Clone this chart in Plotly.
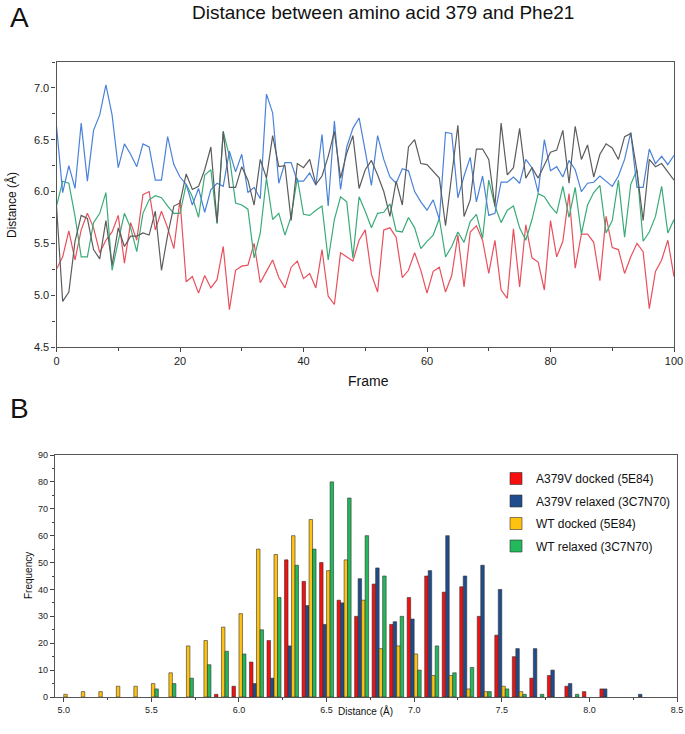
import plotly.graph_objects as go

# ---------------- Panel A data (frames 0..100) ----------------
frames = list(range(101))

a379v_relaxed_line = [  # blue
    6.63, 5.99, 6.25, 6.03, 6.66, 6.10, 6.59, 6.74, 7.03, 6.74,
    6.23, 6.46, 6.36, 6.24, 6.46, 6.43, 6.11, 6.11, 6.53, 6.26,
    6.14, 6.07, 5.87, 6.03, 5.80, 6.02, 6.08, 6.05, 6.39, 6.19,
    6.36, 5.99, 6.04, 5.93, 6.94, 6.76, 6.08, 6.28, 6.28, 6.10,
    6.10, 6.18, 6.06, 6.55, 5.86, 6.68, 6.02, 6.43, 6.61, 6.71,
    6.39, 6.06, 6.54, 6.31, 6.14, 6.08, 6.22, 6.20, 6.00, 5.90,
    5.82, 5.92, 5.73, 6.57, 6.56, 5.94, 6.15, 6.33, 5.90, 6.15,
    5.77, 5.79, 6.09, 6.09, 6.14, 6.08, 6.31, 6.23, 5.99, 6.50,
    6.20, 6.24, 6.14, 6.30, 6.21, 6.00, 6.08, 6.09, 6.15, 6.10,
    6.05, 6.15, 6.31, 6.57, 6.04, 6.04, 6.41, 6.27, 6.34, 6.26,
    6.35]

gray_line = [
    5.86, 4.94, 5.03, 5.52, 5.77, 5.74, 5.44, 5.35, 5.72, 5.29,
    5.65, 5.47, 5.57, 5.57, 5.60, 5.58, 5.81, 5.24, 5.58, 5.86,
    5.89, 6.17, 6.02, 6.05, 6.21, 6.43, 5.70, 6.58, 6.04, 6.04,
    6.24, 6.11, 5.87, 6.31, 6.13, 6.54, 6.24, 6.25, 5.72, 6.27,
    6.23, 6.31, 6.07, 6.15, 6.34, 6.58, 6.13, 6.37, 6.54, 6.03,
    6.21, 6.30, 6.16, 6.00, 5.76, 6.10, 5.87, 6.43, 6.50, 6.27,
    6.26, 6.19, 6.13, 5.67, 6.18, 6.64, 5.76, 5.92, 6.41, 6.41,
    6.31, 5.86, 6.66, 6.16, 6.23, 6.61, 6.13, 6.23, 6.13, 6.25,
    6.38, 6.40, 6.59, 6.08, 6.63, 6.31, 6.45, 6.14, 6.36, 6.46,
    6.42, 6.31, 6.53, 6.56, 6.20, 5.72, 6.31, 6.24, 6.27, 6.19,
    6.11]

green_line = [
    5.86, 6.10, 6.08, 5.76, 5.37, 5.37, 5.70, 5.79, 5.99, 5.24,
    5.52, 5.79, 5.65, 5.42, 5.79, 5.92, 5.96, 5.94, 5.86, 5.79,
    5.79, 6.07, 5.95, 5.75, 6.16, 6.21, 5.69, 6.58, 6.34, 5.89,
    5.87, 5.83, 5.36, 5.60, 6.13, 5.73, 5.79, 5.58, 5.76, 6.13,
    5.78, 5.77, 5.82, 5.86, 5.34, 5.73, 5.95, 5.90, 5.36, 5.95,
    5.81, 5.65, 5.79, 5.80, 5.88, 5.62, 5.61, 5.75, 5.65, 5.45,
    5.52, 5.58, 5.74, 5.37, 5.47, 5.61, 5.51, 5.71, 5.78, 5.55,
    6.11, 5.86, 5.70, 5.82, 5.86, 5.65, 5.53, 5.73, 5.98, 5.95,
    5.86, 5.79, 6.05, 5.75, 6.04, 5.59, 5.87, 5.99, 6.06, 5.60,
    5.72, 6.11, 5.56, 6.07, 6.21, 5.52, 5.61, 5.76, 6.05, 5.60,
    5.73]

red_line = [
    5.25, 5.37, 5.62, 5.34, 5.63, 5.79, 5.65, 5.41, 5.53, 5.61,
    5.77, 5.31, 5.70, 5.53, 5.97, 6.00, 5.63, 5.81, 5.65, 5.45,
    5.92, 5.13, 5.18, 5.02, 5.19, 5.07, 5.15, 5.47, 4.86, 5.24,
    5.28, 5.29, 5.50, 5.12, 5.23, 5.34, 5.17, 5.07, 5.27, 5.33,
    5.16, 5.21, 5.07, 5.44, 4.99, 4.91, 5.41, 5.37, 5.33, 5.53,
    5.63, 5.20, 5.03, 5.63, 5.65, 5.56, 5.17, 5.24, 5.41, 5.24,
    5.02, 5.23, 5.27, 5.03, 5.19, 5.58, 5.08, 5.61, 5.67, 5.53,
    5.21, 5.53, 5.05, 4.97, 5.64, 5.08, 5.68, 5.36, 5.32, 5.05,
    5.72, 5.37, 5.52, 5.98, 5.26, 5.59, 5.59, 5.51, 5.14, 5.76,
    5.46, 5.44, 5.21, 5.37, 5.50, 5.42, 4.87, 5.23, 5.34, 5.53,
    5.18]

# ---------------- Panel B data (histogram bins) ----------------
bins = [5.0, 5.1, 5.2, 5.3, 5.4, 5.5, 5.6, 5.7, 5.8, 5.9,
        6.0, 6.1, 6.2, 6.3, 6.4, 6.5, 6.6, 6.7, 6.8, 6.9,
        7.0, 7.1, 7.2, 7.3, 7.4, 7.5, 7.6, 7.7, 7.8, 7.9,
        8.0, 8.1, 8.2, 8.3]

a379v_docked = [0, 0, 0, 0, 0, 0, 0, 0, 0, 1,
                4, 13, 21, 51, 43, 50, 36, 30, 42, 27,
                37, 45, 39, 41, 30, 23, 15, 7, 8, 4,
                2, 3, 0, 0]
a379v_relaxed = [0, 0, 0, 0, 0, 0, 0, 0, 0, 0,
                 0, 5, 7, 19, 34, 27, 35, 44, 48, 28,
                 29, 47, 60, 45, 49, 40, 18, 18, 10, 5,
                 0, 3, 0, 1]
wt_docked = [1, 2, 2, 4, 4, 5, 9, 19, 21, 26,
             31, 55, 53, 60, 66, 47, 51, 36, 18, 19,
             16, 8, 8, 3, 2, 4, 2, 0, 0, 0,
             0, 0, 0, 0]
wt_relaxed = [0, 0, 0, 0, 0, 3, 5, 7, 12, 17,
              16, 25, 37, 49, 55, 80, 74, 60, 45, 30,
              10, 19, 9, 11, 2, 3, 1, 1, 0, 1,
              0, 0, 0, 0]

series_names = ["A379V docked (5E84)", "A379V relaxed (3C7N70)",
                "WT docked (5E84)", "WT relaxed (3C7N70)"]

FONT = "Liberation Sans, Arial, Helvetica, sans-serif"

fig = go.Figure()

line_specs = [
    (red_line, "#e8505c"),
    (green_line, "#3aab78"),
    (a379v_relaxed_line, "#4a82da"),
    (gray_line, "#5c5c5c"),
]
for vals, col in line_specs:
    fig.add_trace(go.Scatter(x=frames, y=vals, mode="lines",
                             line=dict(color=col, width=1.2),
                             xaxis="x", yaxis="y", showlegend=False,
                             hoverinfo="skip"))

bar_specs = [
    (a379v_docked, "#f50f0f"),
    (a379v_relaxed, "#1f4c8c"),
    (wt_docked, "#ffc20e"),
    (wt_relaxed, "#22b85c"),
]
for i, ((vals, col), name) in enumerate(zip(bar_specs, series_names)):
    yv = [v if v > 0 else None for v in vals]
    fig.add_trace(go.Bar(x=bins, y=yv, name=name, legendgroup=f"g{i}",
                         marker=dict(color=col, line=dict(color="#333333", width=0.6)),
                         xaxis="x2", yaxis="y2"))

axis_common = dict(showgrid=False, zeroline=False, showline=True,
                   linecolor="#555555", linewidth=1.2, mirror=True,
                   ticks="outside", tickcolor="#444444", automargin=False)

fig.update_layout(
    width=685, height=734,
    margin=dict(l=0, r=0, t=0, b=0),
    paper_bgcolor="white", plot_bgcolor="white",
    font=dict(family=FONT, color="#111111"),
    barmode="group", bargap=0.2, bargroupgap=0.0,
    showlegend=True,
    legend=dict(x=496 / 685, y=1 - 464 / 734, xanchor="left", yanchor="top",
                bgcolor="rgba(0,0,0,0)", font=dict(family=FONT, size=12, color="#111"),
                itemwidth=30, tracegroupgap=3.5),
    xaxis=dict(domain=[56.5 / 685, 674 / 685], range=[0, 100], anchor="y",
               tickvals=[0, 20, 40, 60, 80, 100], ticklen=4,
               minor=dict(dtick=10, ticklen=3, ticks="outside", tickcolor="#444"),
               tickfont=dict(family=FONT, size=11, color="#222"), **axis_common),
    yaxis=dict(domain=[1 - 347 / 734, 1 - 62 / 734], range=[4.5, 7.25], anchor="x",
               tickvals=[4.5, 5.0, 5.5, 6.0, 6.5, 7.0], tickformat=".1f", ticklen=4,
               minor=dict(dtick=0.25, ticklen=3, ticks="outside", tickcolor="#444"),
               tickfont=dict(family=FONT, size=11, color="#222"), **axis_common),
    xaxis2=dict(domain=[55 / 685, 677 / 685], range=[4.95, 8.5], anchor="y2",
                tickvals=[5.0, 5.5, 6.0, 6.5, 7.0, 7.5, 8.0, 8.5], tickformat=".1f",
                ticklen=4,
                minor=dict(dtick=0.25, ticklen=2, ticks="outside", tickcolor="#444"),
                tickfont=dict(family=FONT, size=9, color="#222"), **axis_common),
    yaxis2=dict(domain=[1 - 697 / 734, 1 - 455 / 734], range=[0, 90], anchor="x2",
                dtick=10, ticklen=4,
                minor=dict(dtick=5, ticklen=2, ticks="outside", tickcolor="#444"),
                tickfont=dict(family=FONT, size=9, color="#222"), **axis_common),
)

def ann(text, x, y, size, angle=0, yanchor="middle"):
    fig.add_annotation(text=text, x=x / 685, y=1 - y / 734, xref="paper", yref="paper",
                       showarrow=False, textangle=angle, xanchor="center", yanchor=yanchor,
                       font=dict(family=FONT, size=size, color="#111111"))

ann("A", 19, 0, 28, yanchor="top")
ann("Distance between amino acid 379 and Phe21", 383, 12, 19)
ann("Distance (Å)", 12, 205, 12, -90)
ann("Frame", 368, 381, 14)
ann("B", 19, 409, 28)
ann("Frequency", 28, 576, 10, -90)
ann("Distance (Å)", 366, 711, 10)

fig.write_html("out.html", config={"displayModeBar": False},
               post_script="document.body.style.margin='0px';")
